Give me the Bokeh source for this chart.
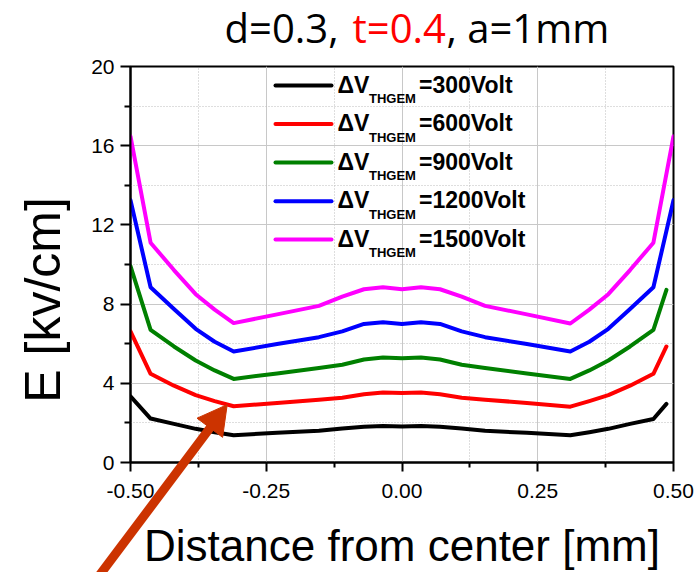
import math
from bokeh.plotting import figure
from bokeh.models import (Range1d, FixedTicker, PrintfTickFormatter)
from bokeh.core.properties import value
from bokeh.embed import file_html
from bokeh.resources import INLINE

# ---------------- data ----------------
x_full = [-0.5, -0.463, -0.42, -0.38, -0.345, -0.31, -0.23, -0.153, -0.11, -0.07, -0.035, 0.0,
          0.035, 0.07, 0.11, 0.153, 0.23, 0.31, 0.345, 0.38, 0.42, 0.463, 0.5]
x_short = [-0.5, -0.463, -0.42, -0.38, -0.345, -0.31, -0.23, -0.153, -0.11, -0.07, -0.035, 0.0,
           0.035, 0.07, 0.11, 0.153, 0.23, 0.31, 0.345, 0.38, 0.42, 0.463, 0.487]

e_300 = [3.34, 2.22, 1.95, 1.70, 1.53, 1.38, 1.50, 1.60, 1.72, 1.80, 1.84, 1.82,
         1.84, 1.80, 1.72, 1.60, 1.50, 1.38, 1.53, 1.70, 1.95, 2.20, 2.96]
e_600 = [6.62, 4.48, 3.88, 3.40, 3.10, 2.84, 3.01, 3.17, 3.27, 3.45, 3.54, 3.51,
         3.54, 3.45, 3.27, 3.17, 3.01, 2.82, 3.10, 3.40, 3.88, 4.48, 5.86]
e_900 = [9.92, 6.70, 5.86, 5.15, 4.65, 4.22, 4.50, 4.77, 4.94, 5.20, 5.30, 5.27,
         5.30, 5.20, 4.94, 4.77, 4.50, 4.22, 4.65, 5.15, 5.86, 6.70, 8.72]
e_1200 = [13.25, 8.85, 7.75, 6.75, 6.10, 5.61, 5.98, 6.33, 6.62, 7.00, 7.08, 7.00,
          7.08, 7.00, 6.62, 6.33, 5.98, 5.61, 6.10, 6.75, 7.75, 8.85, 13.25]
e_1500 = [16.47, 11.10, 9.72, 8.50, 7.72, 7.04, 7.48, 7.91, 8.38, 8.75, 8.85, 8.75,
          8.85, 8.75, 8.38, 7.91, 7.48, 7.02, 7.72, 8.50, 9.72, 11.10, 16.47]

voltages = ["300", "600", "900", "1200", "1500"]
series_x = [x_short, x_short, x_short, x_full, x_full]
series_y = [e_300, e_600, e_900, e_1200, e_1500]
colors = ["#000000", "#ff0000", "#008000", "#0000ff", "#ff00ff"]

x_ticks = [-0.5, -0.25, 0.0, 0.25, 0.5]
x_minor = [-0.375, -0.125, 0.125, 0.375]
y_ticks = [0, 4, 8, 12, 16, 20]
y_minor = [2, 6, 10, 14, 18]

# ---------------- layout helpers (canvas pixels -> data) ----------------
W, H = 694, 572
FL, FR, FT, FB = 130, 673, 66, 463  # frame edges in pixels
X0, X1, Y0, Y1 = -0.5, 0.5, 0.0, 20.0
BASE_SHIFT = 0.41  # em: compensation of the renderer's baseline placement


def px2x(px):
    return X0 + (px - FL) / (FR - FL) * (X1 - X0)


def py2y(py):
    return Y0 + (FB - py) / (FB - FT) * (Y1 - Y0)


def base_y(py, size):
    return py2y(py - BASE_SHIFT * size)


p = figure(width=W, height=H, output_backend="svg", toolbar_location=None,
           x_range=Range1d(X0, X1), y_range=Range1d(Y0, Y1),
           min_border_left=FL, min_border_right=W - FR,
           min_border_top=FT, min_border_bottom=H - FB)
p.background_fill_color = "white"
p.border_fill_color = "white"
p.outline_line_color = "black"
p.outline_line_width = 2
p.outline_line_alpha = 1

AX_FONT = "Liberation Sans"
p.xaxis.ticker = FixedTicker(ticks=x_ticks, minor_ticks=x_minor)
p.yaxis.ticker = FixedTicker(ticks=y_ticks, minor_ticks=y_minor)
p.xaxis.formatter = PrintfTickFormatter(format="%.2f")
p.yaxis.formatter = PrintfTickFormatter(format="%d")
for ax in (p.xaxis, p.yaxis):
    ax.axis_line_width = 2
    ax.axis_line_color = "black"
    ax.major_tick_line_width = 2
    ax.major_tick_line_color = "black"
    ax.minor_tick_line_width = 2
    ax.minor_tick_line_color = "black"
    ax.major_tick_in = 0
    ax.minor_tick_in = 0
    ax.major_label_text_font = AX_FONT
    ax.major_label_text_font_size = "21px"
    ax.major_label_text_color = "black"
    ax.axis_label_text_font = AX_FONT
    ax.axis_label_text_font_style = "normal"
    ax.axis_label_text_color = "black"
p.xaxis.major_tick_out = 9
p.xaxis.minor_tick_out = 5
p.yaxis.major_tick_out = 10
p.yaxis.minor_tick_out = 6
p.xaxis.major_label_standoff = 12
p.yaxis.major_label_standoff = 6
p.xaxis.axis_label = "Distance from center [mm]"
p.xaxis.axis_label_text_font_size = "44px"
p.xaxis.axis_label_standoff = 20

for g in (p.xgrid, p.ygrid):
    g.grid_line_color = "#c8c8c8"
    g.grid_line_width = 1
    g.minor_grid_line_color = "#bcbcbc"
    g.minor_grid_line_dash = "1 2"
    g.minor_grid_line_width = 1

# ---------------- curves ----------------
for xs, ys, c in zip(series_x, series_y, colors):
    p.line(xs, ys, line_color=c, line_width=4, line_join="round", line_cap="round")

# ---------------- manual legend ----------------
leg_line_py = [85, 123.7, 162.3, 201, 239.5]
for v, c, lpy in zip(voltages, colors, leg_line_py):
    p.segment(x0=[px2x(275)], y0=[py2y(lpy)], x1=[px2x(331)], y1=[py2y(lpy)],
              line_color=c, line_width=4, line_cap="round")
    p.text(x=[px2x(337)], y=[base_y(lpy + 8.5, 23)], text=["\u0394V"], text_font=value(AX_FONT),
           text_font_size="23px", text_font_style="bold", text_align="left",
           text_baseline="alphabetic", text_color="black")
    p.text(x=[px2x(368.5)], y=[base_y(lpy + 18.5, 13)], text=["THGEM"], text_font=value(AX_FONT),
           text_font_size="13px", text_font_style="bold", text_align="left",
           text_baseline="alphabetic", text_color="black")
    p.text(x=[px2x(418.5)], y=[base_y(lpy + 8.5, 23)], text=["=" + v + "Volt"], text_font=value(AX_FONT),
           text_font_size="23px", text_font_style="bold", text_align="left",
           text_baseline="alphabetic", text_color="black")

# ---------------- y axis title (placed off-centre like the original) ----------------
p.text(x=[px2x(42)], y=[py2y(300)], text=["E [kv/cm]"], text_font=value(AX_FONT),
       text_font_size="50px", text_align="center", text_baseline="middle",
       angle=math.pi / 2, text_color="black", level="overlay")

# ---------------- title (three coloured pieces, drawn above the frame) ----------------
TITLE_FONT = "Open Sans"
TS = 40
p.text(x=[px2x(338)], y=[base_y(43, TS)], text=["d=0.3,"], text_font=value(TITLE_FONT),
       text_font_size=f"{TS}px", text_align="right", text_baseline="alphabetic",
       text_color="black", level="overlay")
p.text(x=[px2x(352)], y=[base_y(43, TS)], text=["t=0.4"], text_font=value(TITLE_FONT),
       text_font_size=f"{TS}px", text_align="left", text_baseline="alphabetic",
       text_color="#ff0000", level="overlay")
p.text(x=[px2x(446)], y=[base_y(43, TS)], text=[", a=1mm"], text_font=value(TITLE_FONT),
       text_font_size=f"{TS}px", text_align="left", text_baseline="alphabetic",
       text_color="black", level="overlay")

# ---------------- annotation arrow (shaft + head) ----------------
arrow_col = "#cc3300"
p.segment(x0=[px2x(96)], y0=[py2y(580)], x1=[px2x(212)], y1=[py2y(425)],
          line_color=arrow_col, line_width=9, level="overlay")
p.patch(x=[px2x(226.7), px2x(196.5), px2x(222.1)], y=[py2y(405), py2y(418.6), py2y(437.8)],
        fill_color=arrow_col, line_color=arrow_col, line_width=1, level="overlay")

open("out.html", "w").write(file_html(p, INLINE))
